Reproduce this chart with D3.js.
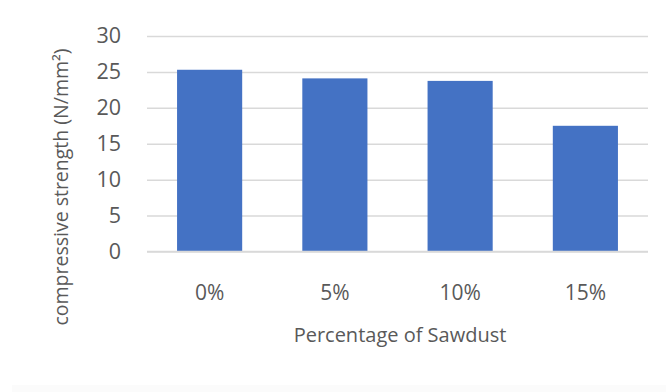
<!DOCTYPE html>
<html>
<head>
<meta charset="utf-8">
<script src="https://cdn.jsdelivr.net/npm/d3@7"></script>
<style>
  html, body { margin: 0; padding: 0; background: #fff; }
  svg { display: block; }
  text { font-family: "Open Sans", "Noto Sans", sans-serif; fill: #595959; }
</style>
</head>
<body>
<div id="chart"></div>
<script>
// Compressive strength by sawdust replacement level
const categories = ["0%", "5%", "10%", "15%"];
const strengthValues = [25.3, 24.1, 23.75, 17.5];
const yTicks = [0, 5, 10, 15, 20, 25, 30];
const xTitle = "Percentage of Sawdust";
const yTitle = "compressive strength (N/mm²)";

const width = 668, height = 392;
const svg = d3.select("#chart").append("svg")
  .attr("width", width).attr("height", height);

// faint strip along the bottom edge
svg.append("rect")
  .attr("x", 12).attr("y", 385).attr("width", 654).attr("height", 7)
  .attr("fill", "#fbfbfb");

const x = d3.scaleBand()
  .domain(categories)
  .range([147, 648])
  .paddingInner(0.48)
  .paddingOuter(0.24);

const y = d3.scaleLinear()
  .domain([0, 30])
  .range([251.5, 36]);

// horizontal gridlines + tick labels
const yAxis = d3.axisLeft(y)
  .tickValues(yTicks)
  .tickSize(-(648 - 147))
  .tickPadding(26);

const gy = svg.append("g")
  .attr("transform", "translate(147,0)")
  .call(yAxis);
gy.select(".domain").remove();
gy.selectAll(".tick line")
  .attr("stroke", "#d9d9d9")
  .attr("stroke-width", 1.5);
gy.selectAll(".tick text")
  .attr("font-size", 21.5)
  .attr("fill", "#595959")
  .style("font-family", "\"Open Sans\", sans-serif");

// bars
svg.append("g").selectAll("rect")
  .data(categories.map((c, i) => ({ c, v: strengthValues[i] })))
  .join("rect")
  .attr("x", d => x(d.c))
  .attr("width", x.bandwidth())
  .attr("y", d => y(d.v))
  .attr("height", d => y(0) - y(d.v))
  .attr("fill", "#4472c4");

// baseline redrawn over the bars' bottoms
svg.append("line")
  .attr("x1", 147).attr("x2", 648)
  .attr("y1", y(0)).attr("y2", y(0))
  .attr("stroke", "#d9d9d9").attr("stroke-width", 1.5);

// category labels
const xAxis = d3.axisBottom(x).tickSize(0).tickPadding(34);
const gx = svg.append("g")
  .attr("transform", `translate(0,${y(0)})`)
  .call(xAxis);
gx.select(".domain").remove();
gx.selectAll(".tick text")
  .attr("font-size", 21)
  .attr("fill", "#595959")
  .style("font-family", "\"Open Sans\", sans-serif");

// axis titles
svg.append("text")
  .attr("x", 400).attr("y", 342)
  .attr("text-anchor", "middle")
  .attr("font-size", 20)
  .text(xTitle);

svg.append("text")
  .attr("transform", "translate(68,187) rotate(-90)")
  .attr("text-anchor", "middle")
  .attr("font-size", 19.5)
  .text(yTitle);
</script>
</body>
</html>
